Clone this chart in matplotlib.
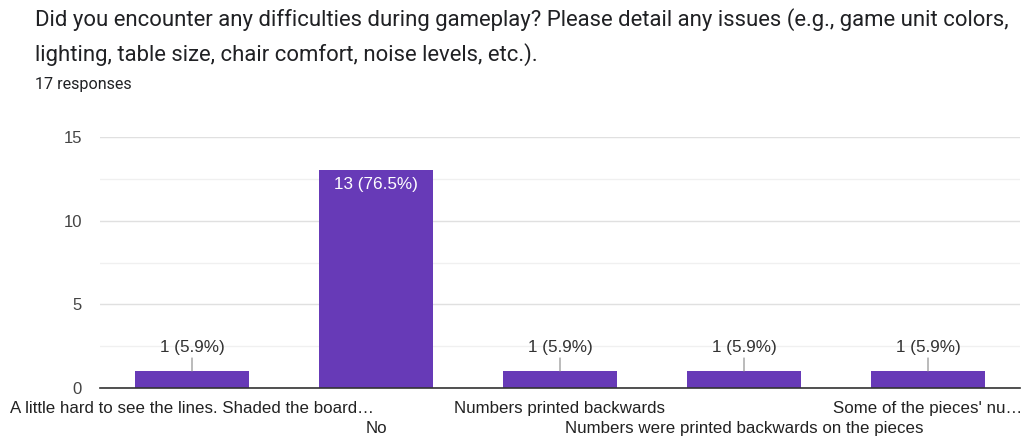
import matplotlib
matplotlib.use("Agg")
import matplotlib.pyplot as plt
from matplotlib.ticker import MultipleLocator

categories = [
    "A little hard to see the lines. Shaded the board\u2026",
    "No",
    "Numbers printed backwards",
    "Numbers were printed backwards on the pieces",
    "Some of the pieces' nu\u2026",
]
counts = [1, 13, 1, 1, 1]
total = 17
title_lines = [
    "Did you encounter any difficulties during gameplay? Please detail any issues (e.g., game unit colors,",
    "lighting, table size, chair comfort, noise levels, etc.).",
]
subtitle = "17 responses"

W, H = 1022, 438
fig = plt.figure(figsize=(W / 100, H / 100), dpi=100)
fig.patch.set_facecolor("white")

ax = fig.add_axes([100 / W, 50 / H, 920 / W, 251 / H])
x = list(range(len(categories)))
bar_color = "#673ab7"
ax.bar(x, counts, width=0.615, color=bar_color, zorder=3)
ax.set_xlim(-0.5, len(categories) - 0.5)
ax.set_ylim(0, 15)
ax.yaxis.set_major_locator(MultipleLocator(5))
ax.yaxis.set_minor_locator(MultipleLocator(2.5))
ax.grid(axis="y", which="major", color="#e0e0e0", linewidth=1, zorder=0)
ax.grid(axis="y", which="minor", color="#f0f0f0", linewidth=1, zorder=0)
for s in ["top", "right", "left"]:
    ax.spines[s].set_visible(False)
ax.spines["bottom"].set_color("#333333")
ax.spines["bottom"].set_linewidth(1.2)
ax.spines["bottom"].set_zorder(4)
ax.tick_params(axis="y", which="both", length=0, labelsize=12, labelcolor="#444444", pad=13)
ax.tick_params(axis="x", length=0)
for lbl in ax.get_yticklabels():
    lbl.set_fontfamily("Liberation Sans")
ax.set_xticks(x)
ax.set_xticklabels([])

# staggered category labels
for i, cat in enumerate(categories):
    offset = -14.6 if i % 2 == 0 else -29.0
    ax.annotate(cat, xy=(i, 0), xycoords=("data", "axes fraction"),
                xytext=(0, offset), textcoords="offset points",
                ha="center", va="center", fontsize=12.2, color="#222222",
                family="Liberation Sans", annotation_clip=False)

# value labels
vmax = max(counts)
for i, v in enumerate(counts):
    txt = f"{v} ({v / total * 100:.1f}%)"
    if v == vmax:
        ax.annotate(txt, xy=(i, v), xytext=(0, -10), textcoords="offset points",
                    ha="center", va="center", color="white", fontsize=12.3,
                    family="Liberation Sans", zorder=5)
    else:
        ax.annotate(txt, xy=(i, v), xytext=(0, 17), textcoords="offset points",
                    ha="center", va="center", color="#333333", fontsize=12.3,
                    family="Liberation Sans", zorder=5,
                    arrowprops=dict(arrowstyle="-", color="#888888", lw=0.8,
                                    shrinkA=0, shrinkB=0))

fig.text(35 / W, 1 - 20 / H, title_lines[0], fontsize=15.9, color="#202124",
         family="Roboto", va="center", ha="left")
fig.text(35 / W, 1 - 55 / H, title_lines[1], fontsize=15.9, color="#202124",
         family="Roboto", va="center", ha="left")
fig.text(35 / W, 1 - 84 / H, subtitle, fontsize=11.6, color="#202124",
         family="Roboto", va="center", ha="left")

fig.savefig("out.png", dpi=100, facecolor="white")
